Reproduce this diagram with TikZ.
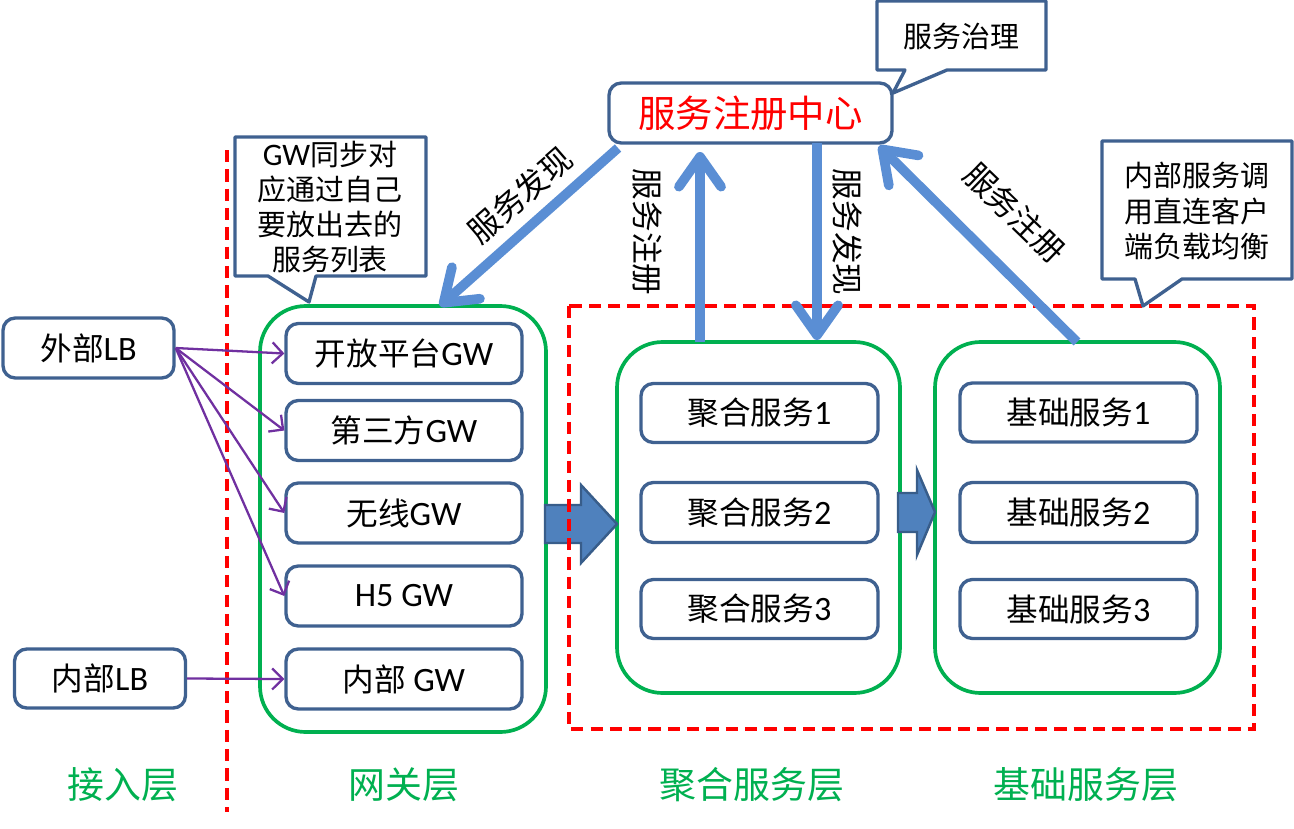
\documentclass[tikz,border=0pt]{standalone}
\usepackage{fontspec}
\setmainfont{Noto Sans CJK SC}
\newfontfamily\lat[Scale=1.08]{Carlito}
\usetikzlibrary{arrows.meta,calc}
\newdimen\pxu \pxu=0.02cm
\definecolor{bdr}{HTML}{3F6190}
\definecolor{grn}{HTML}{00B050}
\definecolor{arrblue}{HTML}{5A8ED4}
\definecolor{blkfill}{HTML}{4F81BD}
\definecolor{blkdraw}{HTML}{385D8A}
\definecolor{purp}{HTML}{7030A0}
\definecolor{redd}{HTML}{FF0000}
\begin{document}
\begin{tikzpicture}[x=0.02cm,y=-0.02cm,
  svc/.style={draw=bdr, line width=1.9pt, rounded corners=7pt, fill=white, inner sep=0pt,
    minimum width=236\pxu, minimum height=60\pxu, font=\fontsize{18}{20}\selectfont},
  lbbox/.style={svc, minimum width=171\pxu},
  grp/.style={draw=grn, line width=2.1pt, rounded corners=26pt, inner sep=0pt},
  reddash/.style={draw=redd, line width=2.1pt, dash pattern=on 7pt off 4pt},
  bluearrow/.style={draw=arrblue, line width=5.5pt, -{Straight Barb[round,length=17pt,width=24pt]}},
  purparrow/.style={draw=purp, line width=1.3pt, -{Straight Barb[length=6pt,width=12pt]}},
  blockarrow/.style={fill=blkfill, draw=blkdraw, line width=1.4pt, line join=miter},
  callout/.style={draw=bdr, line width=1.9pt, fill=white, line join=round},
  calltext/.style={align=center, font=\fontsize{16.5}{20}\selectfont},
  arrlabel/.style={font=\fontsize{18}{20}\selectfont},
  layer/.style={text=grn, font=\fontsize{21}{24}\selectfont}
]
\useasboundingbox (0,0) rectangle (1294,828);

% containers
\node[grp, minimum width=286\pxu, minimum height=426\pxu] (gwg) at (403,519) {};
\node[grp, minimum width=283\pxu, minimum height=351\pxu] (aggg) at (758.5,517.5) {};
\node[grp, minimum width=285\pxu, minimum height=351\pxu] (basg) at (1077.5,517.5) {};

% gateway boxes
\node[svc] (gw1) at (404,353.5) {开放平台{\lat GW}};
\node[svc] (gw2) at (404,430.5) {第三方{\lat GW}};
\node[svc] (gw3) at (404,513) {无线{\lat GW}};
\node[svc] (gw4) at (404,596) {{\lat H5 GW}};
\node[svc] (gw5) at (404,679) {内部 {\lat GW}};

% aggregation services
\node[svc, minimum width=237\pxu, minimum height=59\pxu] (ag1) at (759.5,413) {聚合服务{\lat 1}};
\node[svc, minimum width=237\pxu, minimum height=60\pxu] (ag2) at (759.5,512.5) {聚合服务{\lat 2}};
\node[svc, minimum width=237\pxu, minimum height=59\pxu] (ag3) at (759.5,609) {聚合服务{\lat 3}};

% basic services
\node[svc, minimum width=237\pxu, minimum height=59\pxu] (bs1) at (1078.5,412.5) {基础服务{\lat 1}};
\node[svc, minimum width=237\pxu, minimum height=60\pxu] (bs2) at (1078.5,512.5) {基础服务{\lat 2}};
\node[svc, minimum width=237\pxu, minimum height=59\pxu] (bs3) at (1078.5,609) {基础服务{\lat 3}};

% LBs
\node[lbbox] (ext) at (88.5,348) {外部{\lat LB}};
\node[lbbox, minimum height=59\pxu] (int) at (100,678.5) {内部{\lat LB}};

% registry
\node[svc, minimum width=283\pxu, minimum height=60\pxu, text=redd, font=\fontsize{21.3}{24}\selectfont] (reg) at (750.5,113) {服务注册中心};

% block arrows
\draw[blockarrow] (545,505) -- (581,505) -- (581,485) -- (617,524) -- (581,563) -- (581,543) -- (545,543) -- cycle;
\draw[blockarrow] (898,493) -- (917,493) -- (917,470) -- (935,512) -- (917,555) -- (917,532) -- (898,532) -- cycle;

% red dashed
\coordinate (vtop) at (227,150);
\coordinate (vbot) at (227,812);
\draw[reddash] (vtop) -- (vbot);
\draw[reddash] (569,306) rectangle (1254,729);

% purple arrows
\draw[purparrow] (ext.east) -- (gw1.west);
\draw[purparrow] (ext.east) -- (gw2.west);
\draw[purparrow] (ext.east) -- (gw3.west);
\draw[purparrow] (ext.east) -- (gw4.west);
\draw[purparrow] (int.east) -- (gw5.west);

% blue arrows
\coordinate (d1s) at (618,148);
\coordinate (d1e) at (440,306);
\draw[bluearrow] (d1s) -- (d1e);
\coordinate (r1s) at (700,342);
\coordinate (r1e) at (700,152);
\draw[bluearrow] (r1s) -- (r1e);
\coordinate (d2s) at (817,143);
\coordinate (d2e) at (817,340);
\draw[bluearrow] (d2s) -- (d2e);
\coordinate (r2s) at (1077,342);
\coordinate (r2e) at (879,146);
\draw[bluearrow] (r2s) -- (r2e);

% arrow labels
\node[arrlabel, rotate=41] (l1) at (520,195) {服务发现};
\node[arrlabel, rotate=-90] (l2) at (647,232) {服务注册};
\node[arrlabel, rotate=-90] (l3) at (848,232) {服务发现};
\node[arrlabel, rotate=-44] (l4) at (1015,213) {服务注册};

% callouts
\draw[callout] (877,1) -- (1046,1) -- (1046,70) -- (947,70) -- (893,93) -- (905,70) -- (877,70) -- cycle;
\node[calltext] (c1) at (961.5,36) {服务治理};
\draw[callout] (235,137) -- (426,137) -- (426,276) -- (316,276) -- (309,302) -- (268,276) -- (235,276) -- cycle;
\node[calltext] (c2) at (330,207) {{\lat GW}同步对\\应通过自己\\要放出去的\\服务列表};
\draw[callout] (1102,141) -- (1292,141) -- (1292,279) -- (1182,279) -- (1143,306) -- (1135,279) -- (1102,279) -- cycle;
\node[calltext] (c3) at (1197,211) {内部服务调\\用直连客户\\端负载均衡};

% layer labels
\node[layer] (L1) at (123,785) {接入层};
\node[layer] (L2) at (404,785) {网关层};
\node[layer] (L3) at (752,785) {聚合服务层};
\node[layer] (L4) at (1086,785) {基础服务层};
\end{tikzpicture}
\end{document}
